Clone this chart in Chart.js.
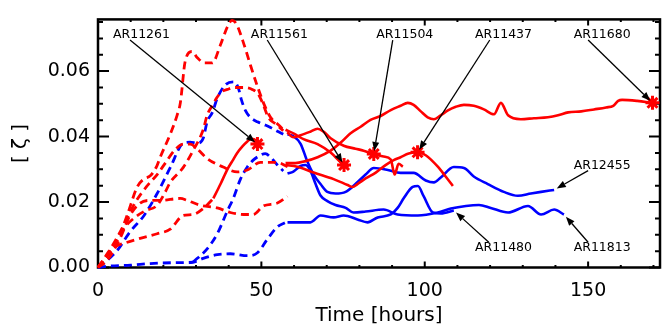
<!DOCTYPE html>
<html>
<head>
<meta charset="utf-8">
<script src="https://cdn.jsdelivr.net/npm/chart.js@4.4.1/dist/chart.umd.min.js"></script>
<style>
  body { margin: 0; background: #fff; }
  #wrap { width: 662px; height: 332px; }
</style>
</head>
<body>
<div id="wrap"><canvas id="grafico"></canvas></div>
<script>
// Ejes
const xTicks = [0, 50, 100, 150];
const yTicks = [0, 0.02, 0.04, 0.06];

// Curvas rojas a trazos (antes de t ~ 57 h)
const rojoT1 = [0, 1.5, 3.7, 5.8, 8.9, 12, 14, 16, 18, 19, 22.1, 24.2, 25.2, 26.7, 28.8, 30.4, 32.5, 35, 37.4, 39.6, 41, 42.3, 44.8, 46.6, 48.8, 50.9, 52.8, 55.2, 56.7];
const rojoV1 = [0, 0.002, 0.005, 0.008, 0.0159, 0.0246, 0.027, 0.028, 0.031, 0.0336, 0.0407, 0.0465, 0.0503, 0.0631, 0.066, 0.0641, 0.0625, 0.0625, 0.0678, 0.0735, 0.0755, 0.0745, 0.0678, 0.062, 0.0553, 0.0497, 0.0459, 0.0436, 0.0421];
const rojoT2 = [0, 2.1, 5.2, 8.3, 11.3, 14.4, 18.1, 20.6, 22.1, 26.1, 29.1, 32.2, 33.4, 35, 36.5, 38, 39.6, 41.7, 44.8, 47.2, 49.1, 50.6, 52.1, 54.3, 56.7];
const rojoV2 = [0, 0.0028, 0.0074, 0.0124, 0.0153, 0.0173, 0.019, 0.0231, 0.026, 0.0306, 0.0357, 0.0421, 0.0465, 0.0495, 0.0521, 0.0538, 0.0544, 0.055, 0.055, 0.0544, 0.0529, 0.0497, 0.0459, 0.0439, 0.0418];
const rojoT3 = [0, 2.1, 5.2, 8.3, 11.3, 15, 18.1, 20.6, 23.6, 26.1, 28.2, 30.4, 33.4, 38.3, 42.6, 45.7, 49.7, 54.9, 58];
const rojoV3 = [0, 0.0031, 0.008, 0.0138, 0.0197, 0.0249, 0.0284, 0.0319, 0.036, 0.0377, 0.0377, 0.0362, 0.0333, 0.0307, 0.0292, 0.0298, 0.0321, 0.0321, 0.0308];
const rojoT4 = [0, 2.8, 6.7, 9.8, 12.9, 16, 19, 25.2, 27.3, 31.3, 36.5, 40.5, 44.5, 47.5, 50.6, 54.9, 58];
const rojoV4 = [0, 0.0022, 0.0088, 0.0159, 0.0197, 0.0205, 0.0205, 0.0211, 0.0205, 0.019, 0.0182, 0.0168, 0.0162, 0.0162, 0.0188, 0.0197, 0.0217];
const rojoT5 = [0, 1.8, 3.7, 5.8, 8, 12.9, 18.1, 22.1, 26.1, 29.1, 32.2, 35.3];
const rojoV5 = [0, 0.0022, 0.0045, 0.0066, 0.0074, 0.0089, 0.0103, 0.0117, 0.0159, 0.0162, 0.018, 0.0211];

// Curvas azules a trazos
const azulT1 = [0, 2, 5.8, 9.8, 14.1, 18.1, 22.1, 26.1, 28.2, 30.4, 32.2, 33.4, 35, 36.5, 39, 41.7, 43, 43.9, 45.1, 46.6, 48.8, 51, 52.8, 54.9, 56.7];
const azulV1 = [0, 0.0015, 0.0051, 0.0109, 0.0159, 0.0226, 0.0305, 0.038, 0.0383, 0.038, 0.0395, 0.0445, 0.0474, 0.0517, 0.0558, 0.0567, 0.0547, 0.0512, 0.048, 0.0459, 0.0445, 0.0436, 0.0428, 0.0416, 0.0407];
const azulT2 = [29.1, 30.4, 33.4, 36.5, 39.6, 41.4, 43.6, 45.7, 47.5, 49.7, 51.2, 52.8, 54.9, 56.7];
const azulV2 = [0.0017, 0.0028, 0.0057, 0.0103, 0.0173, 0.0211, 0.027, 0.0307, 0.0328, 0.0343, 0.0348, 0.0337, 0.0313, 0.0295];
const azulT3 = [0, 3, 10, 16, 25, 29.1, 32.2, 36.5, 40.5, 45.7, 48.8, 51.8, 54.9, 57.4];
const azulV3 = [0, 0.0004, 0.0007, 0.0012, 0.0015, 0.0016, 0.0028, 0.0039, 0.0042, 0.0036, 0.0045, 0.0086, 0.0124, 0.0138];

// Curvas rojas continuas
const ar11261T = [35.3, 37.5, 39.6, 41.1, 42.6, 44.2, 45.7, 46.8, 47.8, 48.8];
const ar11261V = [0.0211, 0.0255, 0.03, 0.0325, 0.035, 0.037, 0.0385, 0.0393, 0.0392, 0.0377];
const ar11561T = [57.4, 59.8, 62.9, 67.2, 71.2, 74.2, 75.3, 76.7];
const ar11561V = [0.0421, 0.041, 0.0392, 0.0377, 0.0351, 0.0322, 0.0313, 0.0307];
const ar11504T = [57.9, 59.8, 62, 65, 67.2, 69, 71.2, 75.2, 78.8, 81.3, 84.4, 87.4, 89.6, 90.8, 92, 93.3];
const ar11504V = [0.0413, 0.0398, 0.0404, 0.0415, 0.0424, 0.0415, 0.0395, 0.0372, 0.0363, 0.0357, 0.0347, 0.0339, 0.033, 0.0284, 0.0317, 0.0308];
const ar11437T = [57.4, 61, 66, 72.1, 76.4, 77.9, 79.4, 81.9, 85, 88, 90.5, 92.6, 95.1, 97.8, 100.3, 104, 106.4, 108.6];
const ar11437V = [0.0313, 0.0308, 0.029, 0.027, 0.0252, 0.0246, 0.0255, 0.0272, 0.029, 0.0313, 0.0328, 0.0337, 0.0348, 0.0352, 0.0343, 0.0308, 0.0278, 0.0249];
const ar11680T = [57.4, 60.4, 63.5, 67.2, 71.2, 74.2, 77.3, 80.4, 83.4, 86.5, 89.6, 92.6, 94.8, 96.6, 98.8, 100.9, 102.8, 104.9, 107.1, 109.5, 112, 115, 118.1, 121.2, 123.3, 125.5, 129.4, 133.4, 137.7, 140.8, 143.9, 147.9, 151.8, 155.5, 157.7, 159.2, 160.4, 165, 169.7];
const ar11680V = [0.0319, 0.0319, 0.0325, 0.0337, 0.0357, 0.0381, 0.041, 0.043, 0.0451, 0.0463, 0.0481, 0.0494, 0.0503, 0.0497, 0.0477, 0.0459, 0.0453, 0.0465, 0.048, 0.0491, 0.0497, 0.0494, 0.0483, 0.0468, 0.0503, 0.0465, 0.0453, 0.0456, 0.0459, 0.0465, 0.0474, 0.0477, 0.0483, 0.0489, 0.0494, 0.0509, 0.0512, 0.0509, 0.0503];

// Curvas azules continuas
const ar12455T = [58, 59.8, 62, 64.1, 66, 68.1, 70.2, 72.7, 75.8, 78.8, 81.9, 84.4, 88.7, 92.6, 96.6, 100.3, 102.8, 104.9, 108.9, 112, 115, 119.3, 124.2, 128.5, 132.5, 135.6, 139.6];
const ar12455V = [0.0407, 0.0401, 0.0378, 0.0323, 0.0284, 0.0255, 0.0231, 0.0226, 0.0231, 0.0255, 0.0284, 0.0304, 0.0298, 0.0289, 0.0289, 0.0266, 0.026, 0.0275, 0.0307, 0.0304, 0.0278, 0.0255, 0.0231, 0.0219, 0.0226, 0.0231, 0.0237];
const ar11813T = [58, 59.8, 62, 63.5, 65, 66.6, 68.1, 70.2, 72.7, 75.8, 78.2, 81.9, 87.4, 91.7, 97.9, 104, 108, 112.6, 116.6, 120.2, 125.5, 131.6, 135.6, 139.6, 142.6];
const ar11813V = [0.0287, 0.0293, 0.031, 0.0313, 0.0296, 0.0255, 0.022, 0.0203, 0.0191, 0.0182, 0.0168, 0.0171, 0.0177, 0.0162, 0.0159, 0.0168, 0.018, 0.0188, 0.0191, 0.0182, 0.0168, 0.0188, 0.0162, 0.0177, 0.0162];
const ar11480T = [58, 65, 68.1, 72.1, 75.2, 79.4, 82.5, 85.6, 89.6, 91.7, 93.6, 96.3, 97.9, 99.7, 102.5, 104.9, 108.9];
const ar11480V = [0.0138, 0.0138, 0.0159, 0.0153, 0.0159, 0.0147, 0.0138, 0.0153, 0.0162, 0.0182, 0.0212, 0.0246, 0.0249, 0.0217, 0.0168, 0.0165, 0.0174];

// Estrellas (fulguraciones)
const estrellaT = [48.8, 75.3, 84.4, 97.8, 169.7];
const estrellaV = [0.0377, 0.0313, 0.0347, 0.0352, 0.0503];

// Etiquetas con flecha: texto, posicion del texto, inicio y punta de la flecha
const etiquetas = ['AR11261', 'AR11561', 'AR11504', 'AR11437', 'AR11680', 'AR12455', 'AR11480', 'AR11813'];
const etiquetaT = [13.3, 55.5, 93.9, 124.1, 154.3, 154.3, 124.1, 154.3];
const etiquetaV = [0.071, 0.071, 0.071, 0.071, 0.071, 0.0311, 0.006, 0.006];
const desdeT = [9.8, 51.8, 90.2, 119.9, 150, 150, 119.6, 150];
const desdeV = [0.0695, 0.0695, 0.0695, 0.0695, 0.0695, 0.0296, 0.0077, 0.0077];
const hastaT = [48.8, 75.3, 84.4, 97.8, 169.7, 139.6, 108.9, 142.6];
const hastaV = [0.0377, 0.0313, 0.0347, 0.0352, 0.0503, 0.0237, 0.0174, 0.0162];

const ROJO = '#ff0000';
const AZUL = '#0000ff';

function serie(t, v, color, trazos) {
    return {
        data: t.map((x, i) => ({ x: x, y: v[i] })),
        borderColor: color,
        borderWidth: trazos ? 2.8 : 2.6,
        borderDash: trazos ? [8, 5] : [],
        pointRadius: 0,
        showLine: true,
        fill: false,
        cubicInterpolationMode: 'monotone',
        clip: 4
    };
}

// Marco con marcas hacia dentro (estilo IDL) y flechas
const marco = {
    id: 'marco',
    beforeDatasetsDraw(chart) {
        const { ctx, chartArea: a, scales: { x, y } } = chart;
        ctx.save();
        ctx.strokeStyle = '#000';
        ctx.lineWidth = 2.5;
        ctx.strokeRect(a.left, a.top, a.right - a.left, a.bottom - a.top);
        ctx.lineWidth = 2;
        ctx.beginPath();
        for (let i = 0; i * 0.005 <= y.max; i++) {
            const py = y.getPixelForValue(i * 0.005);
            const l = i % 4 === 0 ? 11 : 5;
            ctx.moveTo(a.left, py); ctx.lineTo(a.left + l, py);
            ctx.moveTo(a.right, py); ctx.lineTo(a.right - l, py);
        }
        for (let i = 0; i * 10 <= x.max; i++) {
            const px = x.getPixelForValue(i * 10);
            const l = i % 5 === 0 ? 6 : 2.5;
            ctx.moveTo(px, a.bottom); ctx.lineTo(px, a.bottom - l);
            ctx.moveTo(px, a.top); ctx.lineTo(px, a.top + l);
        }
        ctx.stroke();
        ctx.restore();
    },
    afterDatasetsDraw(chart) {
        const { ctx, scales: { x, y } } = chart;
        ctx.save();
        ctx.fillStyle = '#000';
        ctx.strokeStyle = '#000';
        ctx.lineWidth = 1.3;
        ctx.font = '12.5px "DejaVu Sans"';
        ctx.textAlign = 'center';
        ctx.textBaseline = 'middle';
        etiquetas.forEach((nombre, i) => {
            ctx.fillText(nombre, x.getPixelForValue(etiquetaT[i]), y.getPixelForValue(etiquetaV[i]));
            const x0 = x.getPixelForValue(desdeT[i]);
            const y0 = y.getPixelForValue(desdeV[i]);
            const ang = Math.atan2(y.getPixelForValue(hastaV[i]) - y0, x.getPixelForValue(hastaT[i]) - x0);
            const x1 = x.getPixelForValue(hastaT[i]) - 3 * Math.cos(ang);
            const y1 = y.getPixelForValue(hastaV[i]) - 3 * Math.sin(ang);
            const bx = x1 - 9 * Math.cos(ang);
            const by = y1 - 9 * Math.sin(ang);
            ctx.beginPath();
            ctx.moveTo(x0, y0);
            ctx.lineTo(bx, by);
            ctx.stroke();
            ctx.beginPath();
            ctx.moveTo(x1, y1);
            ctx.lineTo(bx + 3.5 * Math.sin(ang), by - 3.5 * Math.cos(ang));
            ctx.lineTo(bx - 3.5 * Math.sin(ang), by + 3.5 * Math.cos(ang));
            ctx.closePath();
            ctx.fill();
        });
        ctx.restore();
    }
};

const fuente = { family: 'DejaVu Sans', size: 19 };

new Chart(document.getElementById('grafico'), {
    type: 'scatter',
    data: {
        datasets: [
            {
                data: estrellaT.map((t, i) => ({ x: t, y: estrellaV[i] })),
                pointStyle: 'star',
                pointRadius: 7,
                borderColor: ROJO,
                borderWidth: 3,
                showLine: false,
                clip: 10
            },
            serie(ar11261T, ar11261V, ROJO, false),
            serie(ar11561T, ar11561V, ROJO, false),
            serie(ar11504T, ar11504V, ROJO, false),
            serie(ar11437T, ar11437V, ROJO, false),
            serie(ar11680T, ar11680V, ROJO, false),
            serie(rojoT1, rojoV1, ROJO, true),
            serie(rojoT2, rojoV2, ROJO, true),
            serie(rojoT3, rojoV3, ROJO, true),
            serie(rojoT4, rojoV4, ROJO, true),
            serie(rojoT5, rojoV5, ROJO, true),
            serie(ar12455T, ar12455V, AZUL, false),
            serie(ar11813T, ar11813V, AZUL, false),
            serie(ar11480T, ar11480V, AZUL, false),
            serie(azulT1, azulV1, AZUL, true),
            serie(azulT2, azulV2, AZUL, true),
            serie(azulT3, azulV3, AZUL, true)
        ]
    },
    options: {
        responsive: true,
        maintainAspectRatio: false,
        animation: false,
        devicePixelRatio: 1,
        layout: { autoPadding: false, padding: { top: 7.5, right: 2, left: 0, bottom: 0 } },
        plugins: { legend: { display: false }, tooltip: { enabled: false } },
        scales: {
            x: {
                type: 'linear',
                min: 0,
                max: 172,
                grid: { display: false, drawTicks: false },
                border: { display: false },
                afterBuildTicks: s => { s.ticks = xTicks.map(v => ({ value: v })); },
                afterFit: s => { s.height = 64.5; },
                ticks: { font: fuente, color: '#000', padding: 12, maxRotation: 0, callback: v => v },
                title: {
                    display: true,
                    text: 'Time [hours]',
                    color: '#000',
                    font: { family: 'DejaVu Sans', size: 20 },
                    padding: { top: 0, bottom: 4 }
                }
            },
            y: {
                min: 0,
                max: 0.0758,
                grid: { display: false, drawTicks: false },
                border: { display: false },
                afterBuildTicks: s => { s.ticks = yTicks.map(v => ({ value: v })); },
                afterFit: s => { s.width = 98; },
                ticks: { font: fuente, color: '#000', padding: 8, callback: v => v.toFixed(2) },
                title: {
                    display: true,
                    text: '[ ζ ]',
                    color: '#000',
                    font: { family: 'DejaVu Sans', size: 20 },
                    padding: { top: 8.5, bottom: 0 }
                }
            }
        }
    },
    plugins: [marco]
});
</script>
</body>
</html>
